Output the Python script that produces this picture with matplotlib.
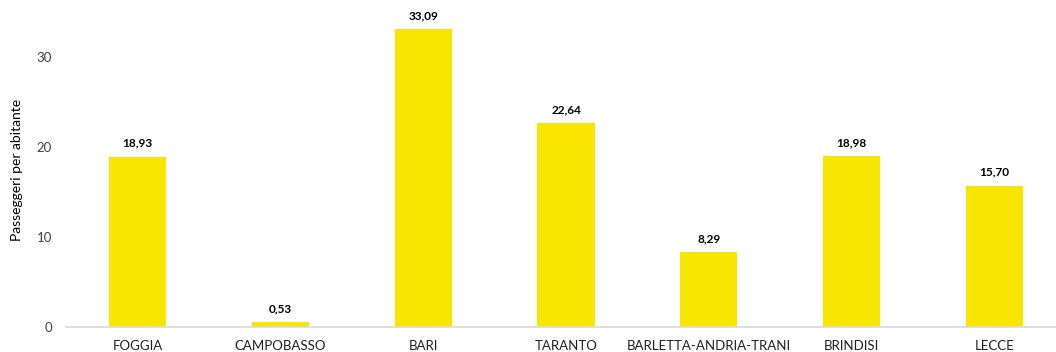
import matplotlib.pyplot as plt
import numpy as np

# Data
categories = ['FOGGIA', 'CAMPOBASSO', 'BARI', 'TARANTO', 'BARLETTA-ANDRIA-TRANI', 'BRINDISI', 'LECCE']
values = [18.93, 0.53, 33.09, 22.64, 8.29, 18.98, 15.70]
yticks = [0, 10, 20, 30]

plt.rcParams['font.family'] = ['Lato', 'DejaVu Sans']

fig = plt.figure(figsize=(10.56, 3.52), dpi=100)
ax = fig.add_axes([66 / 1056, 25 / 352, 990 / 1056, 315 / 352])

x = np.arange(len(categories))
bars = ax.bar(x, values, width=0.4, color='#F8E600', zorder=2)

# Value labels
for xi, v in zip(x, values):
    ax.annotate(f'{v:.2f}'.replace('.', ','), xy=(xi, v), xytext=(0, 6),
                textcoords='offset points', ha='center', va='bottom',
                fontsize=8.5, fontweight='bold', color='black')

ax.set_xlim(-0.5, 6.5 - 10 / 142.8)
ax.set_ylim(0, 35)
ax.set_yticks(yticks)
ax.set_xticks(x)
ax.set_xticklabels(categories)
ax.tick_params(axis='both', length=0, labelsize=9.5, colors='#404040')
ax.tick_params(axis='x', pad=9, colors='#202020')
ax.tick_params(axis='y', pad=10)

for s in ['top', 'right', 'left']:
    ax.spines[s].set_visible(False)
ax.spines['bottom'].set_color('#D9D9D9')
ax.spines['bottom'].set_linewidth(1.2)

ax.set_ylabel('Passeggeri per abitante', fontsize=10, color='black', labelpad=10)

fig.savefig('out.png', dpi=100, facecolor='white')
